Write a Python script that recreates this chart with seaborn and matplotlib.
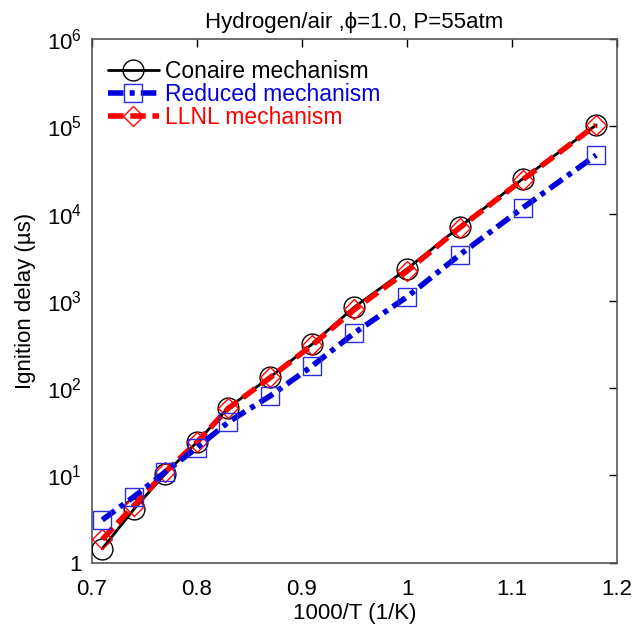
import matplotlib
matplotlib.use("Agg")
import matplotlib.pyplot as plt
import seaborn as sns
import pandas as pd
from matplotlib.ticker import FixedLocator, FixedFormatter, NullLocator

x_vals = [0.71, 0.74, 0.77, 0.80, 0.83, 0.87, 0.91, 0.95, 1.00, 1.05, 1.11, 1.18]
conaire = [1.45, 4.1, 10.5, 24, 60, 135, 322, 855, 2330, 7070, 25000, 104000]
reduced = [3.1, 5.7, 11, 20.8, 41, 82, 181, 431, 1114, 3375, 11650, 47000]
llnl = [1.85, 4.5, 11, 24, 59, 133, 315, 800, 2200, 6900, 24500, 104000]

series_names = ["Conaire mechanism", "Reduced mechanism", "LLNL mechanism"]
y_ticks = [1, 10, 100, 1e3, 1e4, 1e5, 1e6]
y_tick_labels = ["1", r"$10^1$", r"$10^2$", r"$10^3$", r"$10^4$", r"$10^5$", r"$10^6$"]
x_ticks = [0.7, 0.8, 0.9, 1.0, 1.1, 1.2]
x_tick_labels = ["0.7", "0.8", "0.9", "1", "1.1", "1.2"]

sns.set_theme(style="white")
plt.rcParams["font.family"] = ["Liberation Sans", "DejaVu Sans"]
plt.rcParams["mathtext.fontset"] = "custom"
plt.rcParams["mathtext.rm"] = "Liberation Sans"
plt.rcParams["mathtext.it"] = "Liberation Sans"

df = pd.DataFrame({
    "x": x_vals * 3,
    "y": conaire + reduced + llnl,
    "series": [series_names[0]] * len(x_vals) + [series_names[1]] * len(x_vals) + [series_names[2]] * len(x_vals),
})

fig = plt.figure(figsize=(6.33, 6.33), dpi=100)
ax = fig.add_axes([0.145, 0.111, 0.830, 0.827])

styles = {
    series_names[0]: dict(color="black", lw=2.0, ls="-", marker="o", ms=15, mec="black", z=3),
    series_names[1]: dict(color="#0000dd", lw=4.0, ls=(0, (2.8, 1.1, 0.9, 1.1)), marker="s", ms=12.5, mec="#2a2ae0", z=5),
    series_names[2]: dict(color="#ff0000", lw=4.0, ls=(0, (2.8, 1.2)), marker="D", ms=10, mec="#ff0000", z=4),
}

for name in series_names:
    st = styles[name]
    sub = df[df["series"] == name]
    sns.lineplot(data=sub, x="x", y="y", ax=ax, color=st["color"], linewidth=st["lw"],
                 linestyle=st["ls"], marker=st["marker"], markersize=st["ms"],
                 markerfacecolor="none", markeredgecolor=st["mec"], markeredgewidth=1.0,
                 label=name, estimator=None, sort=False, zorder=st["z"])

ax.set_yscale("log")
ax.set_xlim(0.7, 1.2)
ax.set_ylim(1, 1e6)
ax.yaxis.set_major_locator(FixedLocator(y_ticks))
ax.yaxis.set_major_formatter(FixedFormatter(y_tick_labels))
ax.yaxis.set_minor_locator(NullLocator())
ax.xaxis.set_major_locator(FixedLocator(x_ticks))
ax.xaxis.set_major_formatter(FixedFormatter(x_tick_labels))

ax.tick_params(axis="both", which="major", direction="in", length=6, width=1.0,
               top=True, right=True, labelsize=16, colors="black", pad=7)
ax.tick_params(axis="x", pad=12)
for sp in ax.spines.values():
    sp.set_color("#555555")
    sp.set_linewidth(1.2)

ax.set_xlabel("1000/T (1/K)", fontsize=16, color="black", labelpad=2)
ax.set_ylabel("Ignition delay (\u00b5s)", fontsize=16, color="black", labelpad=8)
ax.set_title("Hydrogen/air ,\u03d5=1.0, P=55atm", fontsize=16, color="black", pad=8)

handles, labels = ax.get_legend_handles_labels()
leg = ax.legend(handles, labels,
                loc="upper left", bbox_to_anchor=(-0.008, 1.0), frameon=False,
                fontsize=16.5, handlelength=2.2, handletextpad=0.26, labelspacing=0.0,
                borderaxespad=0.5)
for txt, name in zip(leg.get_texts(), series_names):
    txt.set_color(styles[name]["color"])

fig.savefig("out.png", dpi=100)
